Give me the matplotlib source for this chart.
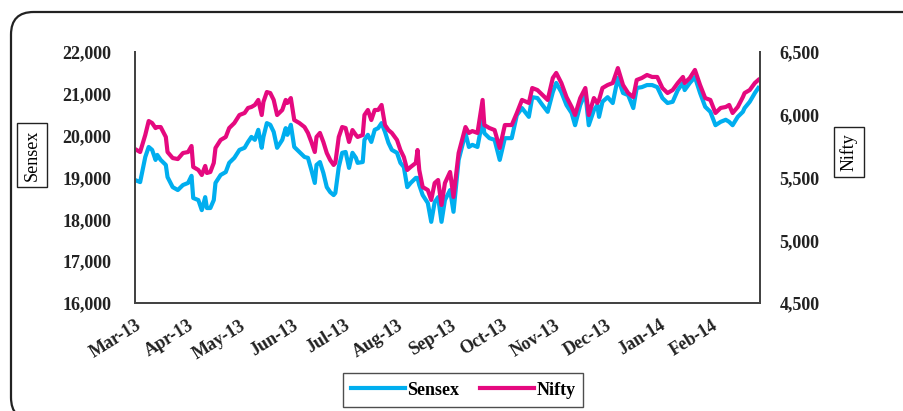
import matplotlib
matplotlib.use("Agg")
import matplotlib.pyplot as plt
import matplotlib.dates as mdates
from matplotlib.patches import FancyBboxPatch
import pandas as pd

dates = [
    "2013-03-01", "2013-03-04", "2013-03-07", "2013-03-09", "2013-03-11", "2013-03-13", "2013-03-14",
    "2013-03-16", "2013-03-19", "2013-03-20", "2013-03-23", "2013-03-26", "2013-03-29", "2013-04-01",
    "2013-04-03", "2013-04-04", "2013-04-07", "2013-04-09", "2013-04-11", "2013-04-12", "2013-04-14",
    "2013-04-16", "2013-04-17", "2013-04-20", "2013-04-23", "2013-04-25", "2013-04-28", "2013-05-01",
    "2013-05-04", "2013-05-06", "2013-05-08", "2013-05-10", "2013-05-12", "2013-05-14", "2013-05-15",
    "2013-05-17", "2013-05-19", "2013-05-21", "2013-05-23", "2013-05-26", "2013-05-28", "2013-05-29",
    "2013-05-31", "2013-06-02", "2013-06-05", "2013-06-08", "2013-06-10", "2013-06-12", "2013-06-14",
    "2013-06-15", "2013-06-17", "2013-06-19", "2013-06-21", "2013-06-23", "2013-06-25", "2013-06-26",
    "2013-06-28", "2013-06-30", "2013-07-02", "2013-07-04", "2013-07-06", "2013-07-08", "2013-07-09",
    "2013-07-12", "2013-07-13", "2013-07-15", "2013-07-17", "2013-07-19", "2013-07-21", "2013-07-23",
    "2013-07-25", "2013-07-27", "2013-07-29", "2013-08-01", "2013-08-03", "2013-08-05", "2013-08-07",
    "2013-08-09", "2013-08-12", "2013-08-13", "2013-08-14", "2013-08-16", "2013-08-19", "2013-08-21",
    "2013-08-23", "2013-08-25", "2013-08-27", "2013-08-29", "2013-09-01", "2013-09-03", "2013-09-06",
    "2013-09-10", "2013-09-12", "2013-09-14", "2013-09-17", "2013-09-20", "2013-09-21", "2013-09-24",
    "2013-09-27", "2013-09-30", "2013-10-03", "2013-10-07", "2013-10-10", "2013-10-13", "2013-10-17",
    "2013-10-19", "2013-10-22", "2013-10-25", "2013-10-28", "2013-10-31", "2013-11-02", "2013-11-05",
    "2013-11-08", "2013-11-11", "2013-11-13", "2013-11-16", "2013-11-19", "2013-11-21", "2013-11-24",
    "2013-11-26", "2013-11-27", "2013-11-29", "2013-12-02", "2013-12-05", "2013-12-08", "2013-12-11",
    "2013-12-14", "2013-12-17", "2013-12-19", "2013-12-22", "2013-12-25", "2013-12-28", "2013-12-31",
    "2014-01-03", "2014-01-06", "2014-01-09", "2014-01-12", "2014-01-15", "2014-01-16", "2014-01-19",
    "2014-01-22", "2014-01-25", "2014-01-28", "2014-01-31", "2014-02-03", "2014-02-06", "2014-02-09",
    "2014-02-11", "2014-02-13", "2014-02-16", "2014-02-19", "2014-02-20", "2014-02-23", "2014-02-26",
    "2014-02-28",
]

sensex = [
    18940, 18890, 19490, 19730, 19660, 19420, 19540,
    19420, 19300, 19010, 18770, 18700, 18820, 18870,
    19040, 18510, 18460, 18220, 18530, 18270, 18270,
    18460, 18870, 19060, 19130, 19350, 19470, 19660,
    19710, 19850, 19970, 19900, 20140, 19710, 19970,
    20300, 20260, 20090, 19710, 19900, 20180, 20020,
    20260, 19730, 19610, 19490, 19470, 19180, 18870,
    19300, 19370, 19110, 18770, 18650, 18580, 18630,
    19250, 19590, 19610, 19230, 19590, 19470, 19350,
    19370, 19900, 20020, 19850, 20140, 20180, 20300,
    20090, 19830, 19660, 19590, 19350, 19250, 18770,
    18870, 18990, 18990, 18820, 18580, 18390, 17940,
    18410, 18530, 17940, 18460, 18700, 18180, 19420,
    20060, 19730, 19780, 19730, 20380, 20060, 19940,
    19900, 19420, 19940, 19940, 20490, 20660, 20450,
    20920, 20900, 20730, 20570, 21040, 21260, 21040,
    20730, 20540, 20250, 20730, 21020, 20250, 20610,
    20730, 20450, 20810, 20920, 20780, 21380, 21020,
    20970, 20660, 21140, 21160, 21210, 21210, 21160,
    20900, 20780, 20810, 21090, 21260, 21090, 21260,
    21400, 21020, 20690, 20570, 20250, 20330, 20380,
    20330, 20250, 20450, 20570, 20660, 20810, 21020,
    21140,
]

nifty = [
    5727, 5703, 5839, 5950, 5934, 5894, 5902,
    5902, 5823, 5703, 5655, 5647, 5695, 5703,
    5751, 5584, 5560, 5520, 5592, 5536, 5544,
    5616, 5735, 5799, 5823, 5894, 5934, 5998,
    6014, 6054, 6062, 6078, 6118, 5998, 6102,
    6181, 6173, 6118, 5998, 6038, 6118, 6094,
    6133, 5958, 5934, 5902, 5855, 5783, 5703,
    5823, 5855, 5783, 5695, 5639, 5600, 5616,
    5823, 5902, 5894, 5783, 5878, 5839, 5823,
    5839, 5998, 6038, 5958, 6038, 6038, 6078,
    5918, 5878, 5855, 5799, 5719, 5663, 5560,
    5584, 5616, 5719, 5560, 5424, 5400, 5321,
    5456, 5480, 5281, 5456, 5544, 5345, 5695,
    5902, 5855, 5870, 5855, 6118, 5918, 5894,
    5878, 5735, 5918, 5918, 6014, 6118, 6094,
    6213, 6197, 6157, 6118, 6293, 6333, 6253,
    6141, 6062, 5998, 6133, 6213, 5998, 6133,
    6094, 6118, 6213, 6237, 6253, 6372, 6237,
    6173, 6141, 6277, 6293, 6317, 6301, 6301,
    6213, 6173, 6197, 6253, 6301, 6253, 6293,
    6357, 6237, 6133, 6118, 6014, 6054, 6062,
    6078, 6014, 6062, 6141, 6173, 6197, 6253,
    6277,
]

month_ticks = pd.date_range("2013-03-01", "2014-02-01", freq="MS")
sensex_ticks = [16000, 17000, 18000, 19000, 20000, 21000, 22000]
nifty_ticks = [4500, 5000, 5500, 6000, 6500]

BLUE = "#00AEEF"
PINK = "#E5097F"
FONT = "Liberation Serif"

x = pd.to_datetime(dates)

fig = plt.figure(figsize=(9.04, 4.11), dpi=100)
W, H = 904, 411

# rounded outer frame
frame = FancyBboxPatch((11 / W, (H - 420) / H), (930 - 11) / W, (420 - 12) / H,
                       boxstyle="round,pad=0,rounding_size=0.025",
                       transform=fig.transFigure, fill=False, ec="#222222", lw=1.6,
                       mutation_aspect=W / H, clip_on=False)
fig.patches.append(frame)

ax = fig.add_axes([135 / W, (H - 303) / H, (760 - 135) / W, (303 - 52) / H])
ax2 = ax.twinx()

l1, = ax.plot(x, sensex, color=BLUE, lw=3.0, solid_joinstyle="round", label="Sensex")
l2, = ax2.plot(x, nifty, color=PINK, lw=3.0, solid_joinstyle="round", label="Nifty")

ax.set_xlim(pd.Timestamp("2013-03-01"), pd.Timestamp("2014-03-01"))
ax.set_ylim(16000, 22000)
ax2.set_ylim(4500, 6500)
ax.set_yticks(sensex_ticks)
ax2.set_yticks(nifty_ticks)
ax.set_yticklabels([f"{v:,}" for v in sensex_ticks], fontfamily=FONT, fontweight="bold", fontsize=13)
ax2.set_yticklabels([f"{v:,}" for v in nifty_ticks], fontfamily=FONT, fontweight="bold", fontsize=13)
ax.set_xticks(month_ticks)
ax.set_xticklabels([d.strftime("%b-%y") for d in month_ticks], fontfamily=FONT,
                   fontweight="bold", fontsize=13, rotation=32, ha="right", rotation_mode="anchor")

ax.tick_params(axis="y", length=0, pad=17, colors="#222222")
ax2.tick_params(axis="y", length=0, pad=14, colors="#222222")
ax.tick_params(axis="x", length=0, pad=10, colors="#222222")

for a in (ax, ax2):
    a.spines["top"].set_visible(False)
    for s in ("left", "right", "bottom"):
        a.spines[s].set_color("#444444")
        a.spines[s].set_linewidth(1.4)

# axis titles in boxes
fig.text(32 / W, 1 - 155 / H, "Sensex", rotation=90, ha="center", va="center",
         fontfamily=FONT, fontsize=13,
         bbox=dict(boxstyle="square,pad=0.35", fc="white", ec="#222222", lw=1.0))
fig.text(849 / W, 1 - 152 / H, "Nifty", rotation=90, ha="center", va="center",
         fontfamily=FONT, fontsize=13,
         bbox=dict(boxstyle="square,pad=0.35", fc="white", ec="#222222", lw=1.0))

leg = fig.legend([l1, l2], ["Sensex", "Nifty"], loc="center", bbox_to_anchor=(463 / W, 1 - 390 / H),
                 ncol=2, frameon=True, fancybox=False, handlelength=3.0, columnspacing=1.2,
                 handletextpad=0.1, borderpad=0.45,
                 prop={"family": FONT, "weight": "bold", "size": 13})
leg.get_frame().set_edgecolor("#222222")
leg.get_frame().set_linewidth(1.0)

fig.savefig("out.png", dpi=100)
